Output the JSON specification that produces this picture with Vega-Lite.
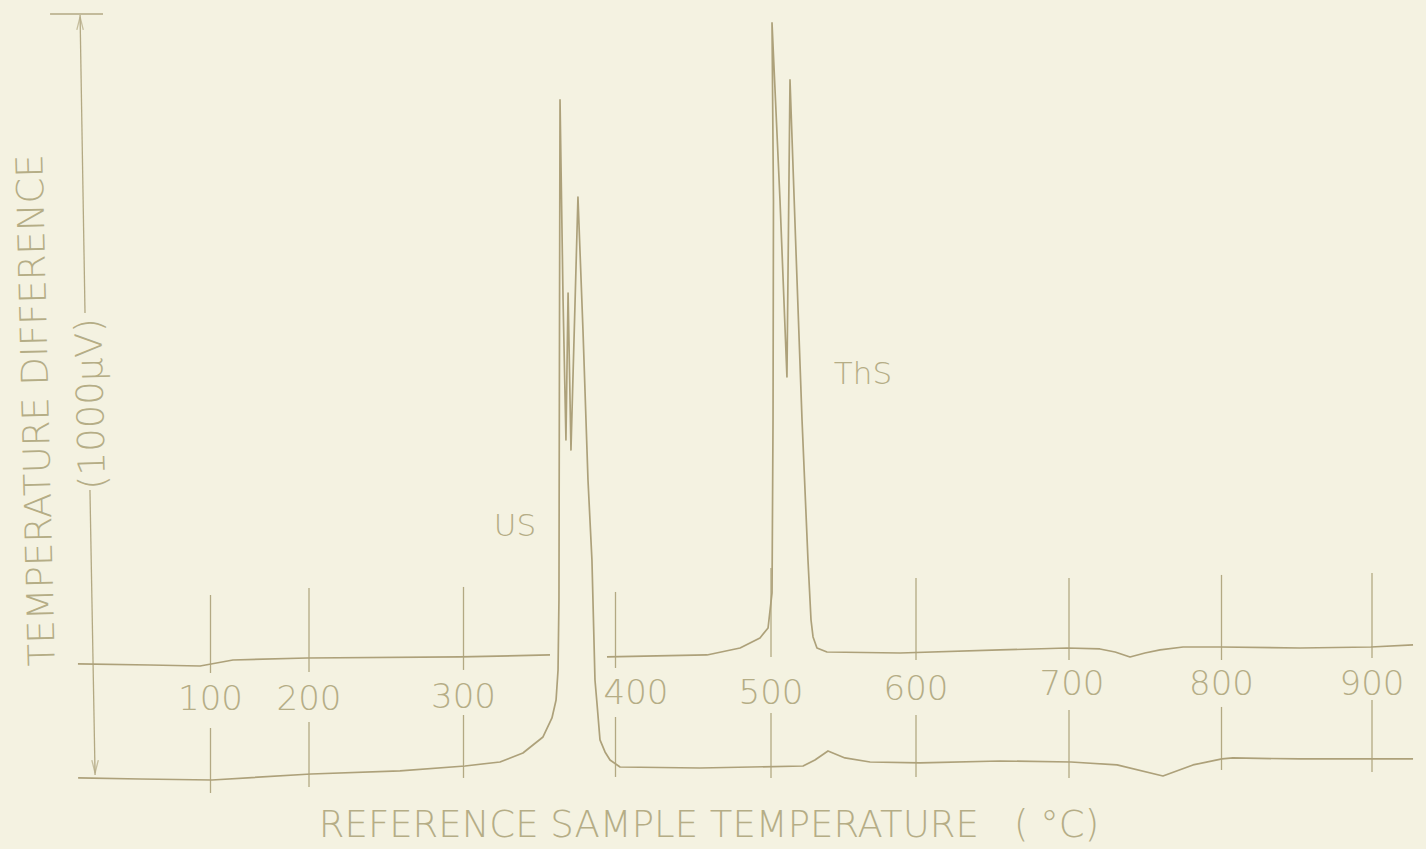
{
  "$schema": "https://vega.github.io/schema/vega-lite/v6.json",
  "width": 1426,
  "height": 849,
  "padding": 0,
  "autosize": {"type": "none"},
  "background": "#f4f2e1",
  "view": {"stroke": null},
  "config": {"text": {"font": "DejaVu Sans", "fontWeight": 200, "color": "#b5ad86"}},
  "datasets": {
    "curves": [
      {"s": "US", "i": 1, "t": 25, "v": -3.9},
      {"s": "US", "i": 2, "t": 60.1, "v": -5.3},
      {"s": "US", "i": 3, "t": 101.5, "v": -6.6},
      {"s": "US", "i": 4, "t": 201.3, "v": 1.3},
      {"s": "US", "i": 5, "t": 258.9, "v": 5.3},
      {"s": "US", "i": 6, "t": 301, "v": 11.8},
      {"s": "US", "i": 7, "t": 324, "v": 17.1},
      {"s": "US", "i": 8, "t": 339.1, "v": 28.9},
      {"s": "US", "i": 9, "t": 352.3, "v": 50},
      {"s": "US", "i": 10, "t": 358.2, "v": 75},
      {"s": "US", "i": 11, "t": 360.9, "v": 98.7},
      {"s": "US", "i": 12, "t": 362.2, "v": 138.2},
      {"s": "US", "i": 13, "t": 362.8, "v": 230.3},
      {"s": "US", "i": 14, "t": 363.2, "v": 625},
      {"s": "US", "i": 15, "t": 363.5, "v": 888.2},
      {"s": "US", "i": 16, "t": 365.5, "v": 625},
      {"s": "US", "i": 17, "t": 367.4, "v": 440.8},
      {"s": "US", "i": 18, "t": 368.8, "v": 634.2},
      {"s": "US", "i": 19, "t": 370.7, "v": 427.6},
      {"s": "US", "i": 20, "t": 375.3, "v": 760.5},
      {"s": "US", "i": 21, "t": 378.6, "v": 585.5},
      {"s": "US", "i": 22, "t": 381.9, "v": 388.2},
      {"s": "US", "i": 23, "t": 384.5, "v": 282.9},
      {"s": "US", "i": 24, "t": 386.5, "v": 125},
      {"s": "US", "i": 25, "t": 387.8, "v": 94.7},
      {"s": "US", "i": 26, "t": 389.8, "v": 46.1},
      {"s": "US", "i": 27, "t": 393.1, "v": 30.3},
      {"s": "US", "i": 28, "t": 396.4, "v": 19.7},
      {"s": "US", "i": 29, "t": 402.9, "v": 10.5},
      {"s": "US", "i": 30, "t": 454.3, "v": 9.2},
      {"s": "US", "i": 31, "t": 522.1, "v": 11.8},
      {"s": "US", "i": 32, "t": 530.3, "v": 19.7},
      {"s": "US", "i": 33, "t": 539.3, "v": 31.6},
      {"s": "US", "i": 34, "t": 551, "v": 22.4},
      {"s": "US", "i": 35, "t": 568.3, "v": 17.1},
      {"s": "US", "i": 36, "t": 602.6, "v": 15.8},
      {"s": "US", "i": 37, "t": 654.9, "v": 18.4},
      {"s": "US", "i": 38, "t": 701.3, "v": 17.1},
      {"s": "US", "i": 39, "t": 731.5, "v": 13.2},
      {"s": "US", "i": 40, "t": 761.6, "v": -1.3},
      {"s": "US", "i": 41, "t": 781.3, "v": 13.2},
      {"s": "US", "i": 42, "t": 800.3, "v": 21.1},
      {"s": "US", "i": 43, "t": 807.6, "v": 22.4},
      {"s": "US", "i": 44, "t": 852.2, "v": 21.1},
      {"s": "US", "i": 45, "t": 927, "v": 21.1},
      {"s": "ThS-a", "i": 1, "t": 24.9, "v": 146.1},
      {"s": "ThS-a", "i": 2, "t": 65.7, "v": 144.7},
      {"s": "ThS-a", "i": 3, "t": 94.1, "v": 143.4},
      {"s": "ThS-a", "i": 4, "t": 122.8, "v": 151.3},
      {"s": "ThS-a", "i": 5, "t": 198, "v": 153.9},
      {"s": "ThS-a", "i": 6, "t": 297.7, "v": 155.3},
      {"s": "ThS-a", "i": 7, "t": 356.9, "v": 157.9},
      {"s": "ThS-b", "i": 1, "t": 394.4, "v": 155.3},
      {"s": "ThS-b", "i": 2, "t": 458.8, "v": 157.9},
      {"s": "ThS-b", "i": 3, "t": 480.1, "v": 167.1},
      {"s": "ThS-b", "i": 4, "t": 492.9, "v": 180.3},
      {"s": "ThS-b", "i": 5, "t": 498.1, "v": 193.4},
      {"s": "ThS-b", "i": 6, "t": 500.7, "v": 239.5},
      {"s": "ThS-b", "i": 7, "t": 501.4, "v": 467.1},
      {"s": "ThS-b", "i": 8, "t": 501.7, "v": 756.6},
      {"s": "ThS-b", "i": 9, "t": 500.7, "v": 989.5},
      {"s": "ThS-b", "i": 10, "t": 506.2, "v": 756.6},
      {"s": "ThS-b", "i": 11, "t": 511, "v": 523.7},
      {"s": "ThS-b", "i": 12, "t": 513.1, "v": 914.5},
      {"s": "ThS-b", "i": 13, "t": 517.2, "v": 690.8},
      {"s": "ThS-b", "i": 14, "t": 521.4, "v": 467.1},
      {"s": "ThS-b", "i": 15, "t": 525.5, "v": 282.9},
      {"s": "ThS-b", "i": 16, "t": 527.6, "v": 203.9},
      {"s": "ThS-b", "i": 17, "t": 529, "v": 181.6},
      {"s": "ThS-b", "i": 18, "t": 531.7, "v": 167.1},
      {"s": "ThS-b", "i": 19, "t": 538.6, "v": 161.8},
      {"s": "ThS-b", "i": 20, "t": 589, "v": 160.5},
      {"s": "ThS-b", "i": 21, "t": 654.9, "v": 164.5},
      {"s": "ThS-b", "i": 22, "t": 698.7, "v": 167.1},
      {"s": "ThS-b", "i": 23, "t": 720.3, "v": 165.8},
      {"s": "ThS-b", "i": 24, "t": 730.2, "v": 161.8},
      {"s": "ThS-b", "i": 25, "t": 740, "v": 155.3},
      {"s": "ThS-b", "i": 26, "t": 749.8, "v": 160.5},
      {"s": "ThS-b", "i": 27, "t": 759.7, "v": 164.5},
      {"s": "ThS-b", "i": 28, "t": 774.8, "v": 168.4},
      {"s": "ThS-b", "i": 29, "t": 799.7, "v": 168.4},
      {"s": "ThS-b", "i": 30, "t": 852.2, "v": 167.1},
      {"s": "ThS-b", "i": 31, "t": 899.3, "v": 168.4},
      {"s": "ThS-b", "i": 32, "t": 927, "v": 171.1}
    ],
    "ticks": [
      {"t": 100, "v": 236.8, "v2": 134.2}, {"t": 100, "v": 61.8, "v2": -23.7},
      {"t": 200, "v": 246.1, "v2": 135.5}, {"t": 200, "v": 69.7, "v2": -15.8},
      {"t": 300, "v": 247.4, "v2": 138.2}, {"t": 300, "v": 78.9, "v2": -3.9},
      {"t": 400, "v": 240.8, "v2": 140.8}, {"t": 400, "v": 76.3, "v2": -2.6},
      {"t": 500, "v": 272.4, "v2": 155.3}, {"t": 500, "v": 81.6, "v2": -3.9},
      {"t": 600, "v": 259.2, "v2": 151.3}, {"t": 600, "v": 78.9, "v2": -2.6},
      {"t": 700, "v": 259.2, "v2": 151.3}, {"t": 700, "v": 85.5, "v2": -3.9},
      {"t": 800, "v": 263.2, "v2": 151.3}, {"t": 800, "v": 89.5, "v2": 6.6},
      {"t": 900, "v": 265.8, "v2": 153.9}, {"t": 900, "v": 98.7, "v2": 3.9}
    ],
    "ticklabels": [
      {"t": 100, "v": 98.7, "label": "100"},
      {"t": 200, "v": 98.7, "label": "200"},
      {"t": 300, "v": 101.3, "label": "300"},
      {"t": 413.2, "v": 106.6, "label": "400"},
      {"t": 500, "v": 106.6, "label": "500"},
      {"t": 600, "v": 111.8, "label": "600"},
      {"t": 702, "v": 118.4, "label": "700"},
      {"t": 800, "v": 118.4, "label": "800"},
      {"t": 900, "v": 118.4, "label": "900"}
    ],
    "axislines": [
      {"t": 26.1, "t2": 28.9, "v": 1000, "v2": 607.9},
      {"t": 31.7, "t2": 34.6, "v": 375, "v2": 0},
      {"t": 9.1, "t2": 39.1, "v": 1001.3, "v2": 1001.3}
    ],
    "arrows": [
      {"t": 26.1, "v": 997.4, "dir": "up"},
      {"t": 34.6, "v": 2.6, "dir": "down"}
    ],
    "peaklabels": [
      {"t": 333.9, "v": 326.3, "label": "US"},
      {"t": 563.4, "v": 526.3, "label": "ThS"}
    ],
    "ytitle": [
      {"t": 2.0, "v": 480.0, "label": "TEMPERATURE DIFFERENCE"},
      {"t": 32.9, "v": 488.2, "label": "(1000μV)"}
    ],
    "xtitle": [
      {"t": 460.1, "v": -67.1, "label": "REFERENCE SAMPLE TEMPERATURE\u00a0\u00a0\u00a0(\u00a0°C)"}
    ]
  },
  "encoding": {
    "x": {"field": "t", "type": "quantitative", "axis": null,
      "scale": {"type": "linear", "domain": [0, 100, 200, 300, 400, 500, 600, 700, 800, 900, 1000],
        "range": [34, 210.5, 309, 463.5, 615.5, 771, 916, 1069, 1221.5, 1372, 1524]}},
    "y": {"field": "v", "type": "quantitative", "axis": null,
      "scale": {"domain": [-97.4, 1019.7], "nice": false, "zero": false}}
  },
  "layer": [
    {
      "data": {"name": "ticks"},
      "mark": {"type": "rule", "color": "#b3a983", "strokeWidth": 1.3},
      "encoding": {"y2": {"field": "v2"}}
    },
    {
      "data": {"name": "axislines"},
      "mark": {"type": "rule", "color": "#b3a983", "strokeWidth": 1.3},
      "encoding": {"x2": {"field": "t2"}, "y2": {"field": "v2"}}
    },
    {
      "data": {"name": "arrows"},
      "mark": {"type": "point", "filled": false, "color": "#b3a983", "strokeWidth": 1.3, "size": 42},
      "encoding": {"shape": {"field": "dir", "type": "nominal", "legend": null,
        "scale": {"domain": ["up", "down"], "range": ["M -1 4 L 0 0 L 1 4", "M -1 -4 L 0 0 L 1 -4"]}}}
    },
    {
      "data": {"name": "curves"},
      "mark": {"type": "line", "color": "#ada17a", "strokeWidth": 1.7, "strokeJoin": "round"},
      "encoding": {"detail": {"field": "s"}, "order": {"field": "i", "type": "quantitative"}}
    },
    {
      "data": {"name": "ticklabels"},
      "mark": {"type": "text", "fontSize": 34, "align": "center", "baseline": "middle"},
      "encoding": {"text": {"field": "label"}}
    },
    {
      "data": {"name": "peaklabels"},
      "mark": {"type": "text", "fontSize": 31, "align": "center", "baseline": "middle"},
      "encoding": {"text": {"field": "label"}}
    },
    {
      "data": {"name": "ytitle"},
      "mark": {"type": "text", "fontSize": 37, "align": "center", "baseline": "middle", "angle": 268.6},
      "encoding": {"text": {"field": "label"}}
    },
    {
      "data": {"name": "xtitle"},
      "mark": {"type": "text", "fontSize": 37, "align": "center", "baseline": "middle"},
      "encoding": {"text": {"field": "label"}}
    }
  ]
}
